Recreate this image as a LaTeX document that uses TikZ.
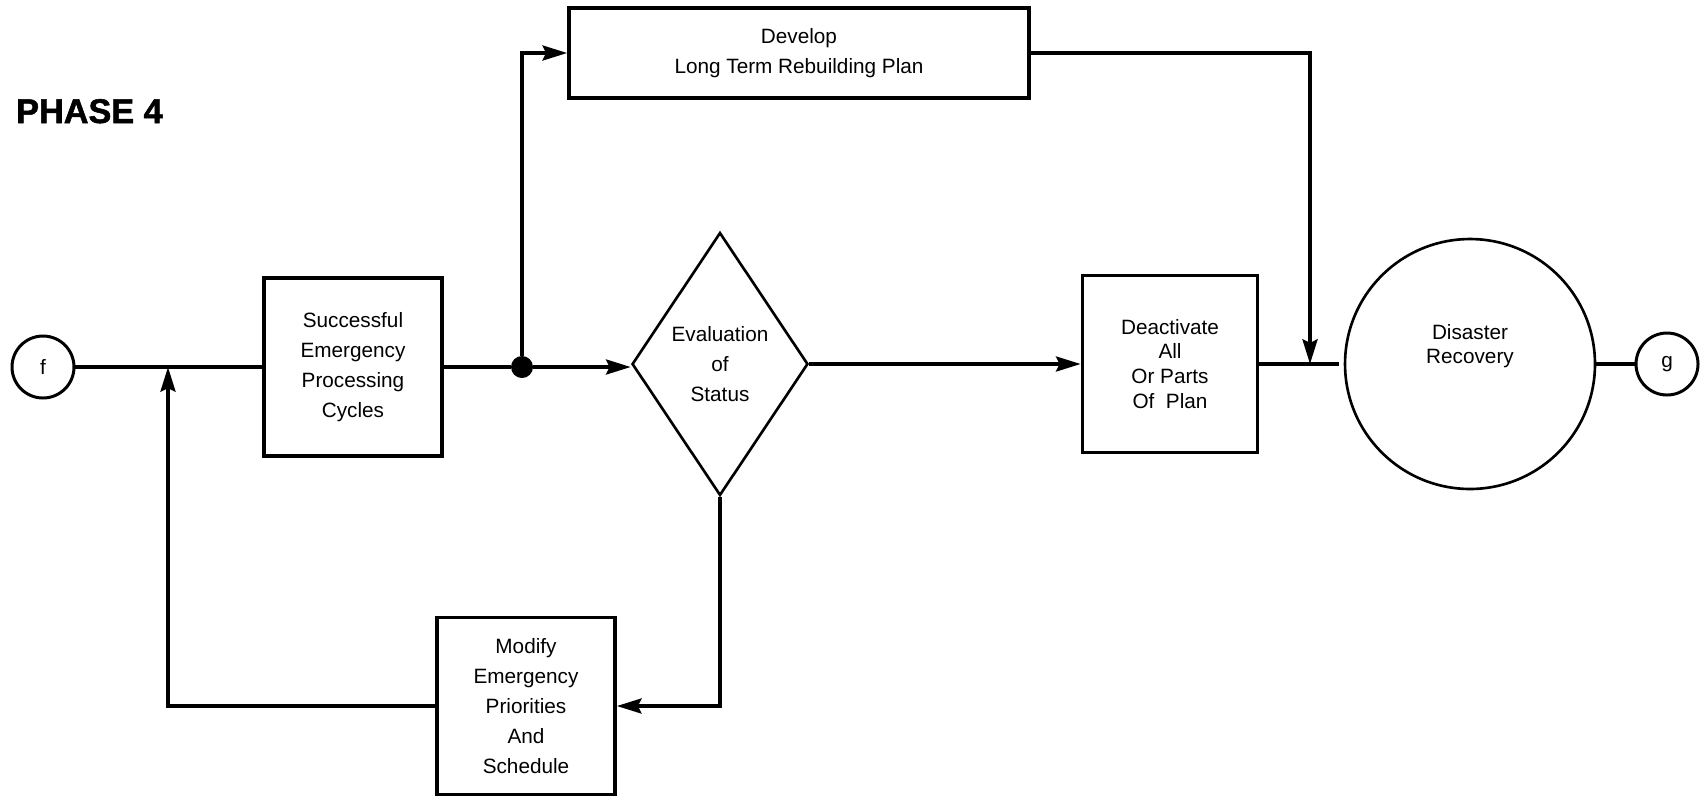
\documentclass[tikz,border=0pt]{standalone}
\usepackage{fontspec}
\setmainfont{Liberation Sans}
\newfontfamily\titrefont[FakeBold=1.5]{Liberation Sans Bold}
\usetikzlibrary{shapes,arrows,arrows.meta}

\begin{document}
\begin{tikzpicture}[x=0.02cm,y=-0.02cm]
 % styles des noeuds
  \tikzstyle{boite}=[rectangle,draw,line width=2.1pt,align=center,inner sep=0pt,font=\fontsize{11.8}{17}\selectfont]
  \tikzstyle{test}=[diamond,aspect=0.67,draw,line width=1.5pt,align=center,inner sep=0pt,font=\fontsize{11.8}{17}\selectfont]
  \tikzstyle{renvoi}=[circle,draw,line width=1.7pt,minimum size=1.24cm,inner sep=0pt,font=\fontsize{11.8}{13}\selectfont]
 % styles des fleches
  \tikzstyle{suite}=[->,>={Stealth[length=14pt,width=8.5pt,inset=2pt]},line width=2.1pt]
  \tikzstyle{trait}=[line width=2.1pt]
  \useasboundingbox (0,0) rectangle (1702,796);
 % placement des noeuds
  \node[anchor=base west,font=\fontsize{19.5}{23}\titrefont] (titre) at (10,123) {PHASE 4};
  \node[renvoi] (f) at (43,367) {f};
  \node[boite,minimum width=3.56cm,minimum height=3.56cm] (cycles) at (353,367) {Successful\\Emergency\\Processing\\Cycles};
  \node[circle,fill,inner sep=0pt,minimum size=0.44cm] (point) at (522,367) {};
  \node[boite,minimum width=9.2cm,minimum height=1.8cm] (plan) at (799,53) {Develop\\Long Term Rebuilding Plan};
  \node[test,minimum width=3.52cm,minimum height=5.26cm] (eval) at (720,364) {Evaluation\\of\\Status};
  \node[boite,minimum width=3.5cm,minimum height=3.54cm,font=\fontsize{11.8}{14.2}\selectfont] (desact) at (1170,364) {Deactivate\\All\\Or Parts\\Of\ \ Plan};
  \node[circle,draw,line width=1.5pt,minimum size=5cm,
        label={[align=center,font=\fontsize{11.8}{13.7}\selectfont,yshift=0.36cm]center:Disaster\\Recovery}] (reprise) at (1470,364) {};
  \node[renvoi] (g) at (1667,364) {g};
  \node[boite,minimum width=3.56cm,minimum height=3.54cm] (modif) at (526,706) {Modify\\Emergency\\Priorities\\And\\Schedule};
  \coordinate (retour) at (168,367);
  \coordinate (jonction) at (1310,364);
 % placement des fleches
  \draw[trait] (f) -- (cycles);
  \draw[trait] (cycles) -- (point);
  \draw[suite] (point) -- (point -| eval.west);
  \draw[suite] (point) |- (plan);
  \draw[suite] (eval) -- (desact);
  \draw[trait,shorten >=0.1cm] (desact) -- (reprise);
  \draw[suite] (plan) -| (jonction);
  \draw[trait] (reprise) -- (g);
  \draw[suite] (eval) |- (modif);
  \draw[suite] (modif) -| (retour);
\end{tikzpicture}
\end{document}
